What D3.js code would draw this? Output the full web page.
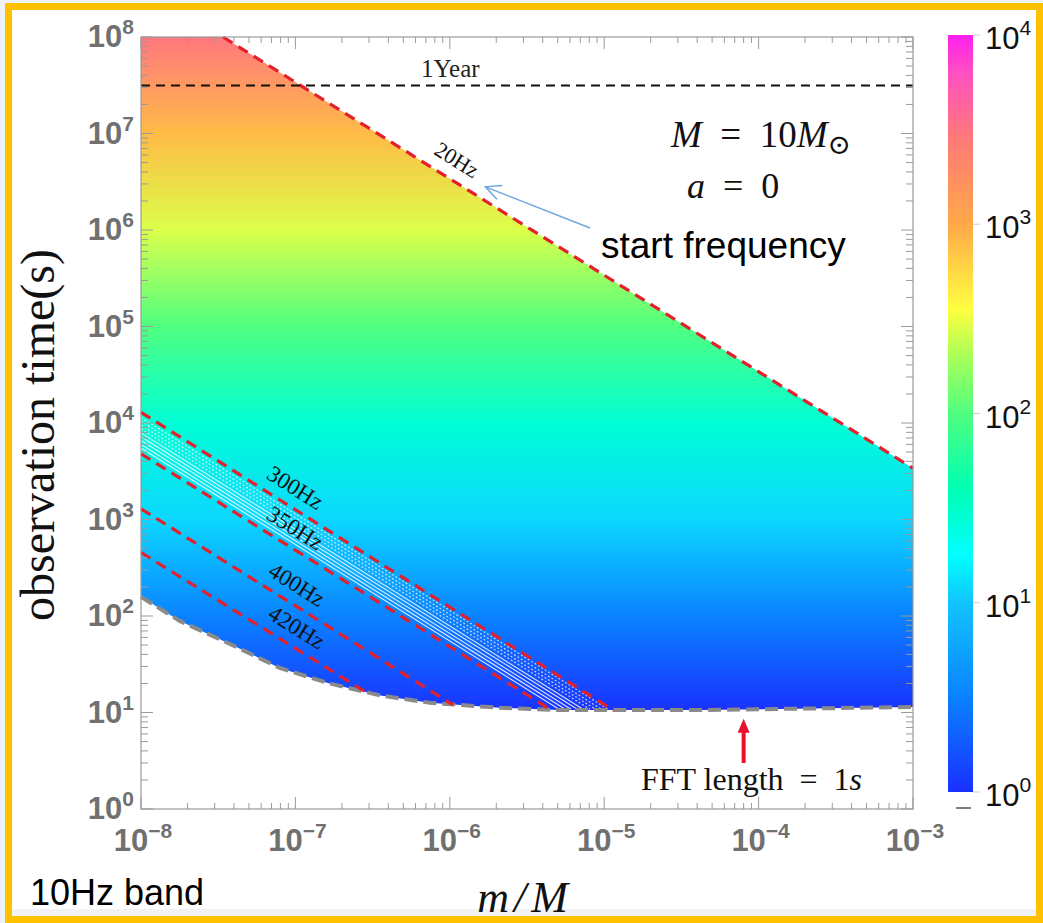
<!DOCTYPE html>
<html><head><meta charset="utf-8">
<script src="https://cdn.jsdelivr.net/npm/d3@7"></script>
<style>body{margin:0;background:#fff} svg{display:block}</style>
</head><body><svg id="c" width="1043" height="923"></svg>
<script>
// ---------------- data ----------------
const xTickValues = [1e-8, 1e-7, 1e-6, 1e-5, 1e-4, 1e-3];
const xTickExps = ["−8", "−7", "−6", "−5", "−4", "−3"];
const yTickValues = [1e0, 1e1, 1e2, 1e3, 1e4, 1e5, 1e6, 1e7, 1e8];
const yTickExps = ["0", "1", "2", "3", "4", "5", "6", "7", "8"];
const cbarTickValues = [1e0, 1e1, 1e2, 1e3, 1e4];
const cbarTickExps = ["0", "1", "2", "3", "4"];

// colour map (log10 of value -> colour)
const cmapLog = [0, 0.5, 1, 1.25, 1.6, 2, 2.3, 2.55, 3, 3.45, 3.8, 4];
const cmapColors = ["#1a30ff", "#0a82ff", "#12c4ff", "#00ffff", "#00ffb4", "#50ff80",
                    "#a8ff58", "#ffff40", "#ffa848", "#ff7a78", "#ff50c0", "#ff20f0"];

// colour value read at each decade of observation time
const obsTimeSamples = [1e1, 1e2, 1e3, 1e4, 1e5, 1e6, 1e7, 1e8];
const colorValueSamples = [1, 3.2, 12, 28, 100, 280, 800, 3000];

// 20Hz start-frequency line (upper boundary)
const startLineX = [3.4e-8, 1e-3];
const startLineT = [1e8, 3400];
// FFT-length floor (lower boundary)
const floorX = [1e-8, 1.78e-8, 3.8e-8, 7.9e-8, 1.66e-7, 3.55e-7, 7.4e-7, 2.1e-6, 5.1e-6, 4.2e-5, 1e-3];
const floorT = [158, 89, 51, 29, 20, 15, 12.6, 11.2, 10.6, 10.6, 11.4];

// other frequency contours
const freqNames = ["300Hz", "350Hz", "400Hz", "420Hz"];
const freqStartX = [1e-8, 1e-8, 1e-8, 1e-8];
const freqStartT = [12900, 4800, 1290, 455];
const freqEndX = [1.15e-5, 4.3e-6, 1.05e-6, 3.0e-7];
const freqEndT = [10.5, 11.2, 12, 15.5];
const freqLabelX = [8.6e-8, 8.6e-8, 8.8e-8, 8.8e-8];

// thin white contours between 300Hz and 350Hz
const whiteStartT = [5500, 6000, 6600, 7200, 7900, 8700, 9500, 10400, 11400];
const whiteEndX = [5.1e-6, 5.6e-6, 6.1e-6, 6.7e-6, 7.3e-6, 8.1e-6, 8.8e-6, 9.6e-6, 1.06e-5];
const whiteEndT = 10.8;
const whiteDotted = [false, false, false, false, false, true, true, true, true];

const oneYear = 3.15e7;

// ---------------- drawing ----------------
const svg = d3.select("#c");
const W = 1043, H = 923;
const x = d3.scaleLog().domain([1e-8, 1e-3]).range([141, 913]);
const y = d3.scaleLog().domain([1e0, 1e8]).range([809, 37]);
const cb = d3.scaleLog().domain([1e0, 1e4]).range([792, 35]);
const cmap = d3.scaleLinear().domain(cmapLog).range(cmapColors).interpolate(d3.interpolateRgb);
const serif = "Liberation Serif, Times New Roman, serif";
const sans = "Liberation Sans, Arial, sans-serif";

// page background & frame
svg.append("rect").attr("width", W).attr("height", H).attr("fill", "#eef1f5");
svg.append("rect").attr("x", 8.5).attr("y", 6.5).attr("width", 1031).attr("height", 913)
  .attr("fill", "#ffffff");
svg.append("rect").attr("x", 12).attr("y", 909).attr("width", 1024).attr("height", 7).attr("fill", "#f2f2f2");

const defs = svg.append("defs");
// field gradient
const fg = defs.append("linearGradient").attr("id", "field")
  .attr("gradientUnits", "userSpaceOnUse")
  .attr("x1", 0).attr("x2", 0).attr("y1", y(1e8)).attr("y2", y(1e1));
for (let i = obsTimeSamples.length - 1; i >= 0; i--) {
  fg.append("stop")
    .attr("offset", (y(obsTimeSamples[i]) - y(1e8)) / (y(1e1) - y(1e8)))
    .attr("stop-color", cmap(Math.log10(colorValueSamples[i])));
}
// colorbar gradient
const cg = defs.append("linearGradient").attr("id", "cbar")
  .attr("x1", 0).attr("x2", 0).attr("y1", 1).attr("y2", 0);
cmapLog.forEach((l, i) => cg.append("stop").attr("offset", l / 4).attr("stop-color", cmapColors[i]));

// region path
const regionPts = [[1e-8, 1e8]];
startLineX.forEach((v, i) => regionPts.push([v, startLineT[i]]));
for (let i = floorX.length - 1; i >= 0; i--) regionPts.push([floorX[i], floorT[i]]);
const line = d3.line().x(d => x(d[0])).y(d => y(d[1]));
const regionPath = line(regionPts) + "Z";
defs.append("clipPath").attr("id", "reg").append("path").attr("d", regionPath);

svg.append("path").attr("d", regionPath).attr("fill", "url(#field)");

// white thin contours
const wg = svg.append("g").attr("clip-path", "url(#reg)");
whiteStartT.forEach((t, i) => {
  wg.append("path").attr("d", line([[1e-8, t], [whiteEndX[i], whiteEndT]]))
    .attr("stroke", "#ffffff").attr("fill", "none")
    .attr("stroke-width", whiteDotted[i] ? 1.3 : 1.1)
    .attr("stroke-opacity", whiteDotted[i] ? 0.7 : 0.85)
    .attr("stroke-dasharray", whiteDotted[i] ? "2,2" : null);
});

// floor (gray dashed)
svg.append("path").attr("d", line(floorX.map((v, i) => [v, floorT[i]])))
  .attr("fill", "none").attr("stroke", "#8a8a8a").attr("stroke-width", 4)
  .attr("stroke-dasharray", "13,6");

// red dashed frequency lines
const red = "#e3202c";
freqNames.forEach((n, i) => {
  svg.append("path").attr("d", line([[freqStartX[i], freqStartT[i]], [freqEndX[i], freqEndT[i]]]))
    .attr("fill", "none").attr("stroke", red).attr("stroke-width", 3.2)
    .attr("stroke-dasharray", "11,7");
});
svg.append("path").attr("d", line(startLineX.map((v, i) => [v, startLineT[i]])))
  .attr("fill", "none").attr("stroke", red).attr("stroke-width", 3.2)
  .attr("stroke-dasharray", "11,7");

// 1 year line
svg.append("line").attr("x1", x(1e-8)).attr("x2", x(1e-3)).attr("y1", y(oneYear)).attr("y2", y(oneYear))
  .attr("stroke", "#111").attr("stroke-width", 2).attr("stroke-dasharray", "9,6");
svg.append("text").attr("x", 421).attr("y", y(oneYear) - 8)
  .attr("font-family", serif).attr("font-size", 25)
  .attr("fill", "#222").text("1Year");

// line labels
function lineAngle(x0, t0, x1, t1) {
  return Math.atan2(y(t1) - y(t0), x(x1) - x(x0)) * 180 / Math.PI;
}
function interpT(x0, t0, x1, t1, xv) {
  const f = (Math.log10(xv) - Math.log10(x0)) / (Math.log10(x1) - Math.log10(x0));
  return Math.pow(10, Math.log10(t0) + f * (Math.log10(t1) - Math.log10(t0)));
}
function lineLabel(txt, x0, t0, x1, t1, xv, off, fs) {
  const a = lineAngle(x0, t0, x1, t1);
  const tv = interpT(x0, t0, x1, t1, xv);
  const rad = a * Math.PI / 180;
  const px = x(xv) + off * Math.sin(rad), py = y(tv) - off * Math.cos(rad);
  svg.append("text").attr("transform", `translate(${px},${py}) rotate(${a})`)
    .attr("text-anchor", "middle").attr("dy", "0.35em")
    .attr("font-family", serif).attr("font-size", fs)
    .attr("fill", "#111").text(txt);
}
freqNames.forEach((n, i) => lineLabel(n, freqStartX[i], freqStartT[i], freqEndX[i], freqEndT[i], freqLabelX[i], 19, 23));
lineLabel("20Hz", startLineX[0], startLineT[0], startLineX[1], startLineT[1], 0.95e-6, 20, 22);

// axes frame & ticks
const axisCol = "#9a9a9a";
svg.append("rect").attr("x", x(1e-8)).attr("y", y(1e8)).attr("width", x(1e-3) - x(1e-8))
  .attr("height", y(1) - y(1e8)).attr("fill", "none").attr("stroke", axisCol).attr("stroke-width", 1.2);
const tg = svg.append("g").attr("stroke", axisCol).attr("stroke-width", 1);
xTickValues.forEach((v) => {
  for (let k = 1; k <= 9; k++) {
    const xv = v * k;
    if (xv > 1e-3 * 1.0001) continue;
    const L = k === 1 ? 12 : 6;
    tg.append("line").attr("x1", x(xv)).attr("x2", x(xv)).attr("y1", y(1)).attr("y2", y(1) - L);
    tg.append("line").attr("x1", x(xv)).attr("x2", x(xv)).attr("y1", y(1e8)).attr("y2", y(1e8) + L);
  }
});
yTickValues.forEach((v) => {
  for (let k = 1; k <= 9; k++) {
    const tv = v * k;
    if (tv > 1e8 * 1.0001) continue;
    const L = k === 1 ? 12 : 7;
    tg.append("line").attr("y1", y(tv)).attr("y2", y(tv)).attr("x1", x(1e-8)).attr("x2", x(1e-8) + L);
    tg.append("line").attr("y1", y(tv)).attr("y2", y(tv)).attr("x1", x(1e-3)).attr("x2", x(1e-3) - L);
  }
});

// tick labels
function powLabel(sel, exp, bigSize, supSize, raise) {
  sel.append("tspan").text("10").attr("font-size", bigSize);
  sel.append("tspan").text(exp).attr("font-size", supSize).attr("dy", -raise);
}
xTickValues.forEach((v, i) => {
  const t = svg.append("text").attr("x", x(v) + 2).attr("y", 851).attr("text-anchor", "middle")
    .attr("font-family", sans).attr("font-weight", "bold").attr("fill", "#707070");
  powLabel(t, xTickExps[i], 31, 21, 13);
});
yTickValues.forEach((v, i) => {
  const t = svg.append("text").attr("x", 134).attr("y", y(v) + 10).attr("text-anchor", "end")
    .attr("font-family", sans).attr("font-weight", "bold").attr("fill", "#707070");
  powLabel(t, yTickExps[i], 31, 21, 13);
});

// axis titles
svg.append("text").attr("transform", `translate(54,${(y(1) + y(1e8)) / 2 + 12}) rotate(-90)`)
  .attr("text-anchor", "middle").attr("font-family", serif)
  .attr("font-size", 48).attr("fill", "#111").text("observation time(s)");
svg.append("text").attr("x", (x(1e-8) + x(1e-3)) / 2 - 2).attr("y", 912).attr("text-anchor", "middle")
  .attr("font-family", serif).attr("font-style", "italic").attr("letter-spacing", 5)
  .attr("font-size", 44).attr("fill", "#111").text("m/M");

// colorbar
svg.append("rect").attr("x", 948).attr("y", cb(1e4)).attr("width", 25).attr("height", cb(1) - cb(1e4))
  .attr("fill", "url(#cbar)");
cbarTickValues.forEach((v, i) => {
  svg.append("line").attr("x1", 973).attr("x2", 980).attr("y1", cb(v)).attr("y2", cb(v))
    .attr("stroke", "#cfcfcf").attr("stroke-width", 1);
  const t = svg.append("text").attr("x", 985).attr("y", cb(v) + 14)
    .attr("font-family", sans).attr("fill", "#111");
  powLabel(t, cbarTickExps[i], 31, 21, 14);
});
svg.append("line").attr("x1", 956).attr("x2", 971).attr("y1", 808).attr("y2", 808)
  .attr("stroke", "#555").attr("stroke-width", 1.5);

// annotations
const m1 = svg.append("text").attr("x", 671).attr("y", 147).attr("font-family", serif)
  .attr("font-size", 37).attr("fill", "#111");
m1.append("tspan").attr("font-style", "italic").text("M");
m1.append("tspan").text("\u2002=\u200210");
m1.append("tspan").attr("font-style", "italic").text("M");
m1.append("tspan").attr("font-size", 28).attr("dy", 7).attr("font-family", "DejaVu Serif").text("⊙");
const a1 = svg.append("text").attr("x", 687).attr("y", 198).attr("font-family", serif)
  .attr("font-size", 36).attr("fill", "#111");
a1.append("tspan").attr("font-style", "italic").text("a");
a1.append("tspan").text("\u2002=\u20020");

svg.append("text").attr("x", 601).attr("y", 258).attr("font-family", sans)
  .attr("font-size", 37).attr("fill", "#000").text("start frequency");

// blue arrow
const arrTail = [8.1e-6, 1.05e6], arrTip = [1.7e-6, 2.8e6];
const bx0 = x(arrTail[0]), by0 = y(arrTail[1]), bx1 = x(arrTip[0]), by1 = y(arrTip[1]);
svg.append("line").attr("x1", bx0).attr("y1", by0).attr("x2", bx1).attr("y2", by1)
  .attr("stroke", "#6fa8e0").attr("stroke-width", 1.5);
{
  const ang = Math.atan2(by0 - by1, bx0 - bx1);
  const hl = 17, hw = 0.45;
  const p1 = [bx1 + hl * Math.cos(ang + hw), by1 + hl * Math.sin(ang + hw)];
  const p2 = [bx1 + hl * Math.cos(ang - hw), by1 + hl * Math.sin(ang - hw)];
  svg.append("path").attr("d", `M${p1}L${bx1},${by1}L${p2}`).attr("fill", "none")
    .attr("stroke", "#6fa8e0").attr("stroke-width", 1.5);
}

// FFT arrow
const fftX = 8e-5, fftT0 = 3.0, fftT1 = 8.6;
svg.append("line").attr("x1", x(fftX)).attr("x2", x(fftX)).attr("y1", y(fftT0)).attr("y2", y(fftT1) + 12)
  .attr("stroke", "#e8102a").attr("stroke-width", 4);
svg.append("path").attr("d", `M${x(fftX) - 6},${y(fftT1) + 14}L${x(fftX)},${y(fftT1)}L${x(fftX) + 6},${y(fftT1) + 14}Z`)
  .attr("fill", "#e8102a");
const ff = svg.append("text").attr("x", 641).attr("y", 790).attr("font-family", serif)
  .attr("font-size", 32).attr("fill", "#111");
ff.append("tspan").text("FFT length\u2002=\u20021");
ff.append("tspan").attr("font-style", "italic").text("s");

svg.append("text").attr("x", 30).attr("y", 905).attr("font-family", sans)
  .attr("font-size", 36).attr("fill", "#000").text("10Hz band");

// orange frame on top
svg.append("rect").attr("x", 8.5).attr("y", 6.5).attr("width", 1031).attr("height", 913)
  .attr("fill", "none").attr("stroke", "#ffc000").attr("stroke-width", 7);
</script></body></html>
